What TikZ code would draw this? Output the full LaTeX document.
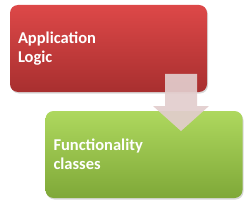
\documentclass[tikz,border=0pt]{standalone}
\usepackage{fontspec}
\setmainfont{Carlito}
\usepackage{xcolor}
\usepackage{tikz}
\usetikzlibrary{shadows,calc}

\definecolor{redtop}{HTML}{DD4848}
\definecolor{redbot}{HTML}{A82F2F}
\definecolor{greentop}{HTML}{AED85E}
\definecolor{greenbot}{HTML}{7FA838}
\definecolor{arrowfill}{HTML}{E2CDCD}

\begin{document}
\begin{tikzpicture}[
    x=1pt,y=1pt,
    block/.style={rounded corners=8pt,minimum width=197pt,minimum height=87pt,
        text width=181pt,align=left,inner xsep=8pt,font=\fontsize{16.5}{19}\selectfont\bfseries,
        text=white,drop shadow={shadow xshift=1pt,shadow yshift=-1.5pt,opacity=0.3}},
]
    \useasboundingbox (0,0) rectangle (251,209);

    \node[block,top color=redtop,bottom color=redbot] (logic) at (108.5,160.5) {Application\\Logic};
    \node[block,top color=greentop,bottom color=greenbot] (func) at (144,54.5) {Functionality\\classes};

    % arrow from logic box down onto functionality box
    \fill[arrowfill,opacity=0.92] (165,135) -- (197,135) -- (197,103) -- (209,103)
        -- (181,78) -- (153,103) -- (165,103) -- cycle;
\end{tikzpicture}
\end{document}
